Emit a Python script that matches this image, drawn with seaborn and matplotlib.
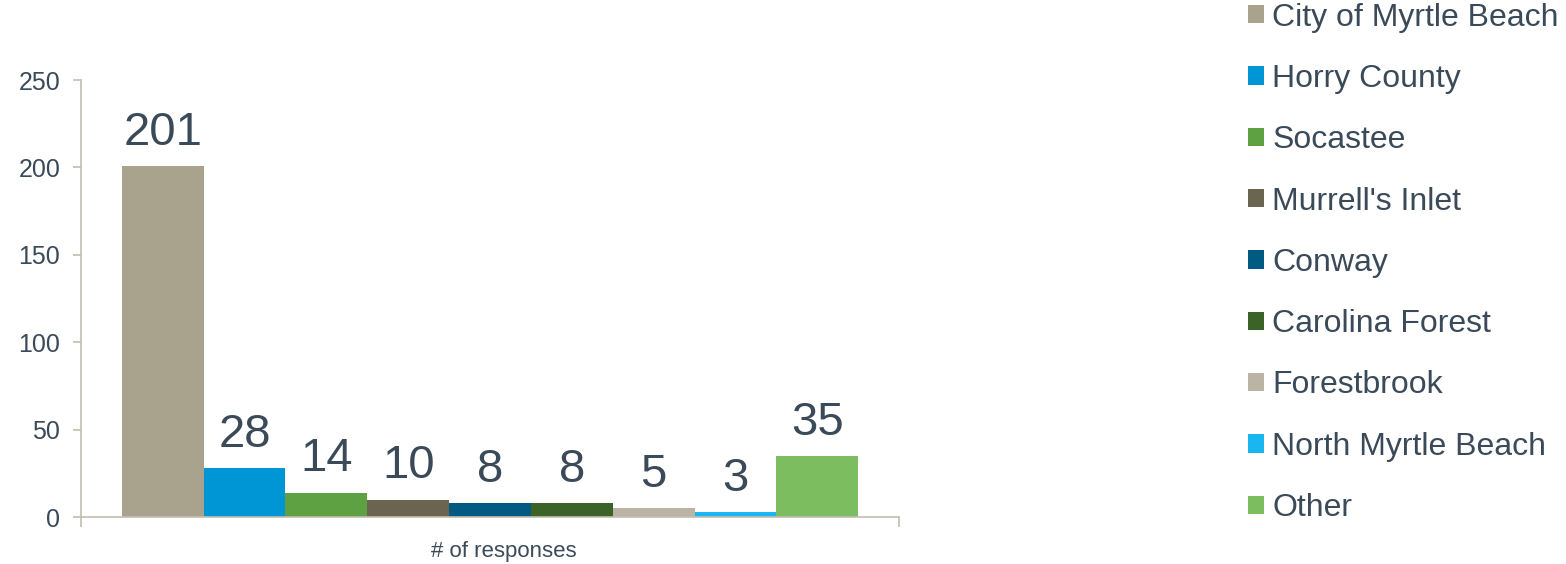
import pandas as pd
import matplotlib
matplotlib.use("Agg")
import matplotlib.pyplot as plt
import matplotlib.transforms as mtransforms
import seaborn as sns

# data
locations = ["City of Myrtle Beach", "Horry County", "Socastee", "Murrell's Inlet",
             "Conway", "Carolina Forest", "Forestbrook", "North Myrtle Beach", "Other"]
responses = [201, 28, 14, 10, 8, 8, 5, 3, 35]
bar_colors = ["#A9A28C", "#0096D6", "#5EA142", "#6B6450", "#005A82",
              "#3B6227", "#BBB3A3", "#1AB6F0", "#7CBD5F"]
category = "# of responses"

df = pd.DataFrame({"group": [category] * len(locations),
                   "Location": locations,
                   "Responses": responses})

sns.set_style("white")
plt.rcParams["font.family"] = ["Liberation Sans", "DejaVu Sans"]
text_col = "#3B4A59"
axis_col = "#C4BEAE"

fig = plt.figure(figsize=(15.66, 5.64), dpi=100)
ax = fig.add_axes([0.0517, 0.0833, 0.5224, 0.7747])

sns.barplot(data=df, x="group", y="Responses", hue="Location",
            palette=bar_colors, width=0.9, dodge=True, saturation=1,
            linewidth=0, ax=ax, legend=True)

for cont in ax.containers:
    ax.bar_label(cont, padding=8, fontsize=34, color=text_col)

ax.set_ylim(0, 250)
ax.set_xlim(-0.5, 0.5)
ax.set_yticks([0, 50, 100, 150, 200, 250])
ax.set_ylabel("")
ax.set_xlabel("")
ax.set_xticks([0])
ax.set_xticklabels([category])
ax.set_xticks([-0.5, 0.5], minor=True)

sns.despine(ax=ax)
for s in ["left", "bottom"]:
    ax.spines[s].set_color(axis_col)
    ax.spines[s].set_linewidth(1.2)

ax.tick_params(axis="y", which="major", left=True, length=6, width=1.2,
               color=axis_col, labelsize=18, labelcolor=text_col, pad=9)
ax.tick_params(axis="x", which="major", bottom=False, labelsize=16,
               labelcolor=text_col, pad=14)
ax.tick_params(axis="x", which="minor", bottom=True, length=7, width=1.2,
               color=axis_col)

# category label sits a little right of centre in the original
shift = mtransforms.ScaledTranslation(0.14, 0, fig.dpi_scale_trans)
for lab in ax.get_xticklabels():
    lab.set_transform(lab.get_transform() + shift)

handles, labels = ax.get_legend_handles_labels()
ax.legend_.remove()
fig.legend(handles, labels, loc="upper left", bbox_to_anchor=(0.7885, 1.018),
           frameon=False, fontsize=23, labelcolor=text_col,
           handlelength=0.5, handleheight=0.5, handletextpad=0.28,
           labelspacing=0.98, borderaxespad=0)

fig.savefig("out.png", dpi=100)
